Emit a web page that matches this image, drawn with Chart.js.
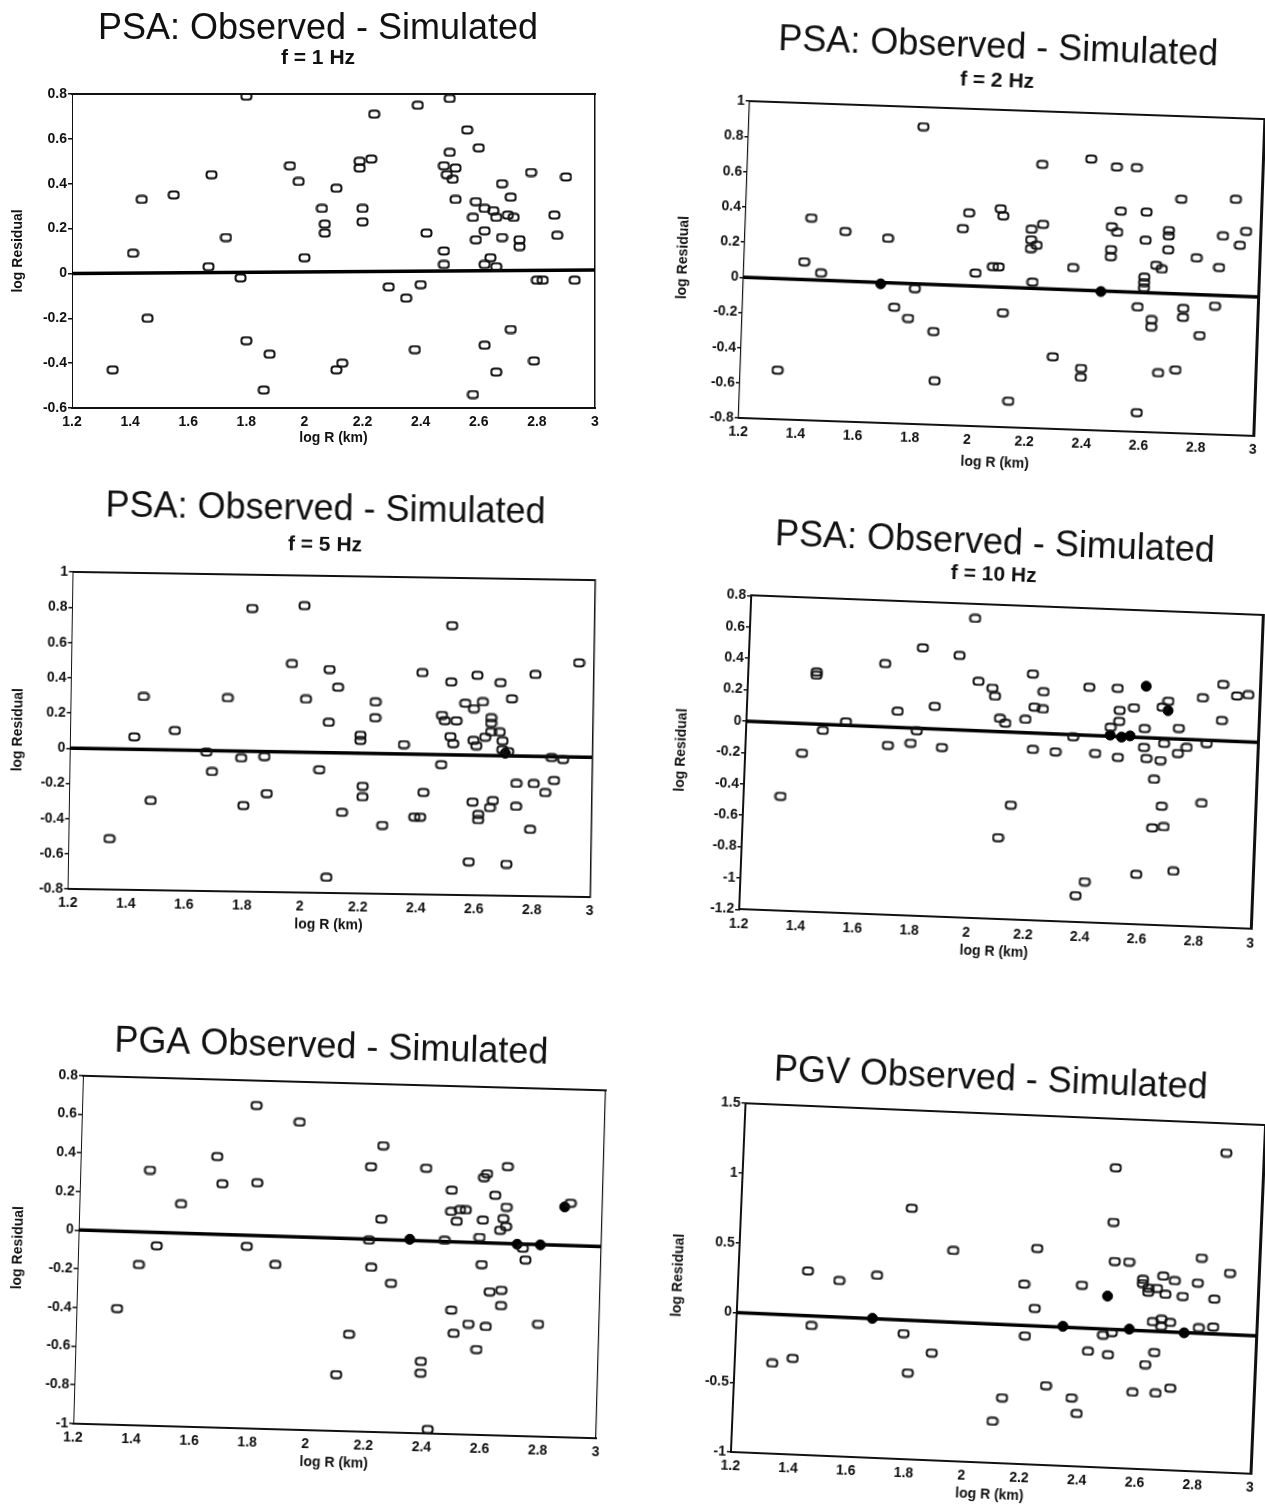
<!DOCTYPE html>
<html lang="en">
<head>
<meta charset="UTF-8">
<title>Observed - Simulated residuals</title>
<script src="https://cdn.jsdelivr.net/npm/chart.js"></script>
<style>
  body { margin: 0; width: 1265px; height: 1510px; background: #fff; overflow: hidden; position: relative; }
  .panel { position: absolute; }
  .panel canvas { display: block; }
</style>
</head>
<body>
<script>
// ---- data (x = log R in km, y = log residual) ----
const rTicks = [1.2, 1.4, 1.6, 1.8, 2, 2.2, 2.4, 2.6, 2.8, 3];
const resTicks1 = [0.8, 0.6, 0.4, 0.2, 0, -0.2, -0.4, -0.6];
const resTicks2 = [1, 0.8, 0.6, 0.4, 0.2, 0, -0.2, -0.4, -0.6, -0.8];
const resTicks10 = [0.8, 0.6, 0.4, 0.2, 0, -0.2, -0.4, -0.6, -0.8, -1, -1.2];
const resTicksPga = [0.8, 0.6, 0.4, 0.2, 0, -0.2, -0.4, -0.6, -0.8, -1];
const resTicksPgv = [1.5, 1, 0.5, 0, -0.5, -1];

const fitR = [1.2, 3];

// PSA f = 1 Hz
const psa1R = [1.80,1.68,1.44,1.55,1.41,1.73,1.67,1.78,1.95,1.98,2.00,2.06,2.07,2.07,1.46,1.80,1.88,1.34,1.86,2.24,2.39,2.50,2.56,2.60,2.50,2.48,2.49,2.51,2.52,2.19,2.23,2.19,2.11,2.20,2.20,2.52,2.59,2.62,2.65,2.66,2.70,2.72,2.58,2.68,2.71,2.78,2.90,2.86,2.87,2.42,2.59,2.62,2.68,2.74,2.74,2.48,2.48,2.62,2.64,2.66,2.29,2.35,2.40,2.80,2.82,2.93,2.71,2.62,2.38,2.79,2.66,2.11,2.13,2.58];
const psa1Res = [0.79,0.44,0.33,0.35,0.09,0.16,0.03,-0.02,0.48,0.41,0.07,0.29,0.22,0.18,-0.20,-0.30,-0.36,-0.43,-0.52,0.71,0.75,0.78,0.64,0.56,0.54,0.48,0.44,0.42,0.47,0.50,0.51,0.47,0.38,0.29,0.23,0.33,0.32,0.29,0.28,0.25,0.26,0.25,0.25,0.40,0.34,0.45,0.43,0.26,0.17,0.18,0.15,0.19,0.16,0.15,0.12,0.10,0.04,0.04,0.07,0.03,-0.06,-0.11,-0.05,-0.03,-0.03,-0.03,-0.25,-0.32,-0.34,-0.39,-0.44,-0.43,-0.40,-0.54];
const psa1FitRes = [0, 0.015];

// PSA f = 2 Hz
const psa2R = [1.81,1.43,1.55,1.70,1.41,1.47,1.80,1.73,1.78,1.87,1.33,1.88,1.96,1.98,2.01,2.07,2.09,2.09,2.10,2.11,2.23,2.24,2.20,2.20,2.20,2.22,2.21,2.29,2.14,2.35,2.40,2.39,2.39,2.49,2.56,2.51,2.48,2.50,2.48,2.48,2.59,2.60,2.60,2.60,2.60,2.60,2.58,2.63,2.63,2.66,2.72,2.68,2.68,2.68,2.64,2.66,2.72,2.74,2.74,2.78,2.80,2.85,2.87,2.86,2.91,2.95,2.93];
const psa2Res = [0.89,0.35,0.28,0.25,0.10,0.04,-0.03,-0.14,-0.20,-0.27,-0.52,-0.55,0.32,0.41,0.07,0.11,0.11,0.44,0.40,-0.15,0.70,0.36,0.33,0.27,0.22,0.24,0.03,-0.39,-0.65,0.12,0.74,-0.50,-0.45,0.70,0.70,0.45,0.36,0.33,0.23,0.19,-0.69,0.45,0.29,0.08,0.05,0.02,-0.09,-0.16,-0.20,-0.46,-0.44,0.35,0.32,0.24,0.15,0.13,0.53,-0.09,-0.14,0.20,-0.24,-0.07,0.33,0.15,0.54,0.36,0.28];
const psa2DotR = [1.68, 2.45];
const psa2DotRes = [-0.01, -0.01];
const psa2FitRes = [0, -0.01];

// PSA f = 5 Hz
const psa5R = [1.82,2.00,1.96,1.45,1.74,2.01,1.42,1.56,1.67,1.79,1.87,1.69,1.88,1.48,1.80,1.34,2.09,2.09,2.06,2.12,2.20,2.20,2.25,2.25,2.14,2.21,2.21,2.28,2.35,2.41,2.39,2.41,2.42,2.48,2.51,2.51,2.48,2.49,2.53,2.51,2.52,2.56,2.59,2.60,2.62,2.59,2.60,2.63,2.65,2.65,2.65,2.68,2.68,2.69,2.69,2.71,2.72,2.80,2.95,2.86,2.90,2.59,2.66,2.65,2.61,2.61,2.74,2.74,2.80,2.87,2.84,2.79,2.58,2.71,2.09];
const psa5Res = [0.81,0.83,0.50,0.30,0.30,0.30,0.07,0.11,-0.01,-0.04,-0.03,-0.12,-0.24,-0.29,-0.31,-0.51,0.47,0.17,-0.10,0.37,0.10,0.07,0.29,0.20,-0.34,-0.19,-0.25,-0.41,0.05,0.46,-0.36,-0.36,-0.22,-0.06,0.73,0.41,0.22,0.19,0.19,0.10,0.06,0.29,0.26,0.45,0.30,0.08,0.05,0.10,0.21,0.18,0.13,0.41,0.13,0.08,0.03,0.02,0.32,0.46,0.53,-0.01,-0.02,-0.27,-0.26,-0.30,-0.34,-0.37,-0.16,-0.29,-0.16,-0.14,-0.21,-0.42,-0.61,-0.62,-0.71];
const psa5DotR = [2.70];
const psa5DotRes = [0.01];
const psa5FitRes = [0, -0.005];

// PSA f = 10 Hz
const psa10R = [1.44,1.44,1.33,1.40,1.47,1.55,1.68,1.70,1.73,1.78,1.81,1.80,1.86,1.89,1.94,1.99,2.01,2.06,2.07,2.09,2.11,2.18,2.20,2.21,2.24,2.24,2.21,2.29,2.14,2.10,2.35,2.40,2.43,2.38,2.41,2.50,2.51,2.51,2.48,2.51,2.56,2.60,2.60,2.61,2.66,2.64,2.67,2.64,2.68,2.59,2.72,2.66,2.68,2.67,2.72,2.72,2.75,2.81,2.80,2.82,2.87,2.87,2.92,2.96];
const psa10Res = [0.33,0.31,-0.47,-0.19,-0.04,0.02,0.40,-0.12,0.10,-0.10,0.51,-0.02,0.14,-0.12,0.47,0.71,0.31,0.27,0.22,0.08,0.05,0.08,0.37,0.16,0.15,0.26,-0.11,-0.12,-0.47,-0.68,-0.02,0.30,-0.12,-1.03,-0.94,0.30,0.16,0.09,0.05,-0.14,0.18,0.05,-0.07,-0.14,-0.15,-0.27,-0.44,-0.58,-0.57,-0.88,-0.85,0.19,0.23,-0.04,0.06,-0.10,-0.06,-0.41,0.26,-0.03,0.35,0.12,0.28,0.29];
const psa10DotR = [2.60, 2.68, 2.48, 2.52, 2.55];
const psa10DotRes = [0.32, 0.17, 0.0, -0.01, 0.0];
const psa10FitRes = [0, -0.01];

// PGA
const pgaR = [1.80,1.95,1.44,1.67,1.69,1.81,1.55,1.47,1.78,1.41,1.88,1.34,2.24,2.20,2.39,2.67,2.59,2.60,2.48,2.48,2.51,2.53,2.50,2.24,2.63,2.67,2.66,2.67,2.65,2.59,2.58,2.20,2.46,2.73,2.21,2.28,2.74,2.59,2.62,2.66,2.66,2.49,2.55,2.50,2.61,2.58,2.79,2.14,2.10,2.39,2.39,2.42,2.89];
const pgaRes = [0.67,0.59,0.32,0.40,0.26,0.27,0.15,-0.07,-0.06,-0.17,-0.15,-0.40,0.48,0.37,0.37,0.39,0.33,0.35,0.26,0.15,0.16,0.16,0.10,0.10,0.24,0.18,0.12,0.08,0.06,0.11,0.02,-0.01,0.0,-0.03,-0.15,-0.23,-0.09,-0.12,-0.26,-0.25,-0.33,-0.36,-0.43,-0.48,-0.44,-0.56,-0.42,-0.50,-0.71,-0.63,-0.69,-0.98,0.21];
const pgaDotR = [2.34, 2.71, 2.79, 2.87];
const pgaDotRes = [0.0, -0.01, -0.01, 0.19];
const pgaFitRes = [0, -0.01];

// PGV
const pgvR = [1.79,1.44,1.55,1.68,1.94,1.46,1.78,1.88,1.80,1.40,1.33,2.23,2.19,2.23,2.20,2.28,2.13,2.10,2.39,2.37,2.39,2.42,2.49,2.47,2.49,2.49,2.50,2.55,2.50,2.60,2.60,2.62,2.62,2.65,2.68,2.67,2.71,2.79,2.80,2.90,2.87,2.74,2.85,2.64,2.67,2.70,2.67,2.80,2.85,2.65,2.62,2.58,2.66,2.71];
const pgvRes = [0.80,0.32,0.26,0.31,0.51,-0.07,-0.10,-0.23,-0.38,-0.31,-0.35,0.55,0.29,0.12,-0.08,-0.43,-0.53,-0.70,0.30,-0.51,-0.62,-0.17,-0.19,-0.05,1.15,0.76,0.48,0.48,-0.03,0.36,0.33,0.30,0.27,0.30,0.26,0.39,0.36,0.35,0.53,0.43,1.29,0.25,0.24,0.06,0.08,0.06,0.03,0.03,0.04,-0.16,-0.25,-0.45,-0.45,-0.41];
const pgvDotR = [1.67, 2.33, 2.48, 2.56, 2.75];
const pgvDotRes = [0.0, 0.0, 0.23, 0.0, -0.01];
const pgvFitRes = [0, -0.01];

// ---- panel layout (page pixels, measured on the scanned figure) ----
const panels = [
  { title: 'PSA: Observed - Simulated', sub: 'f = 1 Hz', r: psa1R, res: psa1Res, dotR: [], dotRes: [], fit: psa1FitRes, ticks: resTicks1,
    cx: 333.5, cy: 251, w: 523, h: 314, rot: 0, tx: 318, ty: 29, sy: 58, yw: 72, ytp: 9.6, xg: 30,
    left: { width: 1, dash: [4, 5] }, right: { width: 1.5, dash: [5, 4] } },
  { title: 'PSA: Observed - Simulated', sub: 'f = 2 Hz', r: psa2R, res: psa2Res, dotR: psa2DotR, dotRes: psa2DotRes, fit: psa2FitRes, ticks: resTicks2,
    cx: 1001, cy: 269, w: 515, h: 317, rot: 2.0, tx: 990, ty: 48.3, sy: 81.3, yw: 70, ytp: 1.1, xg: 35.6,
    left: { width: 1.2, dash: [5, 4] }, right: { width: 3, dash: [] } },
  { title: 'PSA: Observed - Simulated', sub: 'f = 5 Hz', r: psa5R, res: psa5Res, dotR: psa5DotR, dotRes: psa5DotRes, fit: psa5FitRes, ticks: resTicks2,
    cx: 331.5, cy: 734.7, w: 522, h: 317, rot: 0.9, tx: 322, ty: 510, sy: 545, yw: 70.5, ytp: 9.6, xg: 32,
    left: { width: 1, dash: [4, 5] }, right: { width: 1.5, dash: [] } },
  { title: 'PSA: Observed - Simulated', sub: 'f = 10 Hz', r: psa10R, res: psa10Res, dotR: psa10DotR, dotRes: psa10DotRes, fit: psa10FitRes, ticks: resTicks10,
    cx: 1000.75, cy: 762.75, w: 512, h: 314, rot: 2.2, tx: 986, ty: 544.4, sy: 575.4, yw: 72, ytp: 0, xg: 33,
    left: { width: 2, dash: [] }, right: { width: 3, dash: [] } },
  { title: 'PGA Observed - Simulated', sub: null, r: pgaR, res: pgaRes, dotR: pgaDotR, dotRes: pgaDotRes, fit: pgaFitRes, ticks: resTicksPga,
    cx: 339.5, cy: 1256.3, w: 523, h: 348, rot: 1.6, tx: 325.6, ty: 1047.6, sy: null, yw: 78, ytp: 9.3, xg: 32,
    left: { width: 1, dash: [4, 5] }, right: { width: 1.2, dash: [5, 4] } },
  { title: 'PGV Observed - Simulated', sub: null, r: pgvR, res: pgvRes, dotR: pgvDotR, dotRes: pgvDotRes, fit: pgvFitRes, ticks: resTicksPgv,
    cx: 997.75, cy: 1289, w: 520, h: 349, rot: 2.4, tx: 981.7, ty: 1080.3, sy: null, yw: 68, ytp: 0, xg: 31.5,
    left: { width: 2, dash: [] }, right: { width: 3, dash: [] } }
];

const FONT = "'Liberation Sans', Arial, Helvetica, sans-serif";
const INK = '#111';
Chart.defaults.font.family = FONT;
Chart.defaults.color = INK;

// hollow rounded box marker like the plotted symbols
function makeMarker() {
  const c = document.createElement('canvas');
  c.width = 13; c.height = 10;
  const g = c.getContext('2d');
  g.lineWidth = 2;
  g.strokeStyle = INK;
  g.beginPath();
  g.roundRect(1.5, 1.5, 10, 7, 3);
  g.stroke();
  return c;
}
const marker = makeMarker();

const zip = (xs, ys) => xs.map((x, i) => ({ x: x, y: ys[i] }));
const fmt = v => String(Math.round(v * 10) / 10);
const asc = arr => [...arr].sort((a, b) => a - b);

function drawPanel(p) {
  const cl = p.cx - p.w / 2, cr = p.cx + p.w / 2;
  const ct = p.cy - p.h / 2, cb = p.cy + p.h / 2;
  const L = cl - p.yw;
  const T = p.ty - 20;
  const W = Math.round(2 * (p.tx - L));
  const H = Math.round(cb + 46 - T);
  const xh = T + H - cb;
  const y2w = L + W - cr;

  const box = document.createElement('div');
  box.className = 'panel';
  box.style.left = L + 'px';
  box.style.top = T + 'px';
  box.style.width = W + 'px';
  box.style.height = H + 'px';
  box.style.transformOrigin = (p.cx - L) + 'px ' + (p.cy - T) + 'px';
  box.style.transform = 'rotate(' + p.rot + 'deg)';
  const cv = document.createElement('canvas');
  cv.width = W;
  cv.height = H;
  box.appendChild(cv);
  document.body.appendChild(box);

  const xMin = rTicks[0], xMax = rTicks[rTicks.length - 1];
  const yMin = Math.min(...p.ticks), yMax = Math.max(...p.ticks);
  const solid = { display: true, color: INK, width: 2 };

  new Chart(cv, {
    type: 'scatter',
    data: {
      datasets: [
        { data: zip(p.r, p.res), pointStyle: marker, pointRadius: 5 },
        { data: zip(p.dotR, p.dotRes), pointStyle: 'circle', pointRadius: 5,
          backgroundColor: '#000', borderColor: '#000' },
        { data: zip(fitR, p.fit), showLine: true, pointRadius: 0,
          borderColor: '#000', borderWidth: 3.5 }
      ]
    },
    options: {
      responsive: false,
      devicePixelRatio: 1,
      animation: false,
      events: [],
      layout: { padding: 0 },
      plugins: {
        legend: { display: false },
        tooltip: { enabled: false },
        title: {
          display: true, text: p.title, color: INK,
          font: { size: 36, weight: 'normal', lineHeight: 1 },
          padding: { top: 2, bottom: p.sub ? 0 : ct - p.ty - 18 }
        },
        subtitle: {
          display: !!p.sub, text: p.sub || '', color: INK,
          font: { size: 21, weight: 'bold', lineHeight: 1 },
          padding: p.sub ? { top: p.sy - p.ty - 28.5, bottom: ct - p.sy - 10.5 } : 0
        }
      },
      scales: {
        x: {
          type: 'linear', position: 'bottom', min: xMin, max: xMax,
          afterBuildTicks: s => { s.ticks = asc(rTicks).map(v => ({ value: v })); },
          afterFit: s => { s.height = xh; },
          ticks: { callback: fmt, padding: 6, maxRotation: 0, autoSkip: false,
                   font: { size: 14, weight: 'bold' }, color: INK },
          grid: { display: false, drawTicks: false },
          border: solid,
          title: { display: true, text: 'log R (km)', color: INK,
                   font: { size: 14, weight: 'bold' },
                   padding: { top: 0, bottom: xh - p.xg - 8.4 } }
        },
        y: {
          type: 'linear', position: 'left', min: yMin, max: yMax,
          afterBuildTicks: s => { s.ticks = asc(p.ticks).map(v => ({ value: v })); },
          afterFit: s => { s.width = p.yw; },
          ticks: { callback: fmt, padding: 1, autoSkip: false,
                   font: { size: 14, weight: 'bold' }, color: INK },
          grid: { display: true, drawOnChartArea: false, drawTicks: true, tickLength: 4,
                  color: INK, lineWidth: 1.5 },
          border: { display: true, color: INK, width: p.left.width, dash: p.left.dash },
          title: { display: true, text: 'log Residual', color: INK,
                   font: { size: 14, weight: 'bold' },
                   padding: { top: p.ytp, bottom: 0 } }
        },
        xTop: {
          type: 'linear', axis: 'x', position: 'top', min: xMin, max: xMax,
          afterFit: s => { s.height = 0; },
          ticks: { display: false },
          grid: { display: false, drawTicks: false },
          border: solid
        },
        yRight: {
          type: 'linear', axis: 'y', position: 'right', min: yMin, max: yMax,
          afterFit: s => { s.width = y2w; },
          ticks: { display: false },
          grid: { display: false, drawTicks: false },
          border: { display: true, color: INK, width: p.right.width, dash: p.right.dash }
        }
      }
    }
  });
}

panels.forEach(drawPanel);
</script>
</body>
</html>
